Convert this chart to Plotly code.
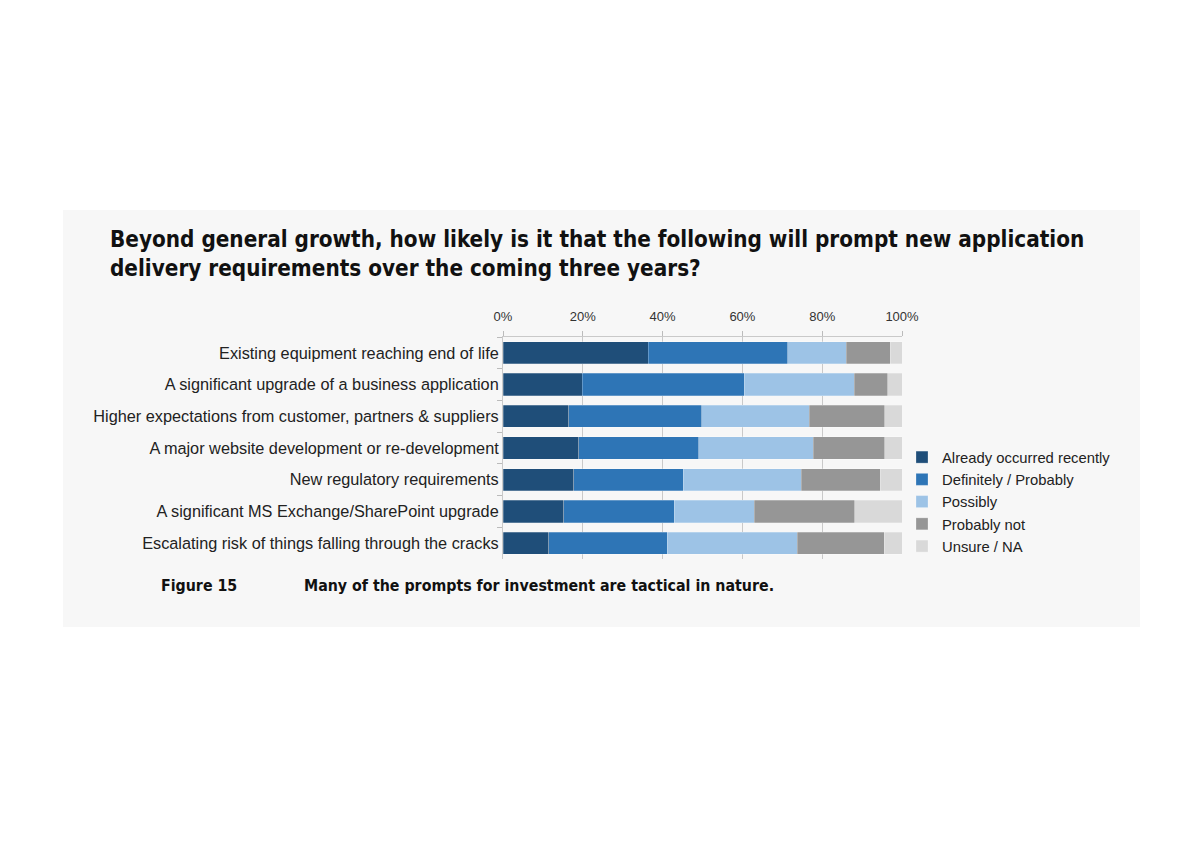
import plotly.graph_objects as go

categories = [
    "Existing equipment reaching end of life",
    "A significant upgrade of a business application",
    "Higher expectations from customer, partners & suppliers",
    "A major website development or re-development",
    "New regulatory requirements",
    "A significant MS Exchange/SharePoint upgrade",
    "Escalating risk of things falling through the cracks",
]
series_names = ["Already occurred recently", "Definitely / Probably", "Possibly", "Probably not", "Unsure / NA"]
already = [36.4, 19.9, 16.5, 19.0, 17.7, 15.2, 11.5]
definitely = [35.0, 40.6, 33.3, 30.0, 27.5, 27.7, 29.7]
possibly = [14.6, 27.5, 26.9, 28.8, 29.5, 20.1, 32.5]
probably_not = [11.0, 8.4, 19.0, 17.9, 19.8, 25.2, 21.8]
unsure = [3.0, 3.6, 4.3, 4.3, 5.5, 11.8, 4.5]
colors = ["#1f4e79", "#2e75b6", "#9dc3e6", "#969696", "#d9d9d9"]

W, H = 1191, 851
L, R, T, B = 503, 902, 337, 559

fig = go.Figure()
for name, vals, c in zip(series_names, [already, definitely, possibly, probably_not, unsure], colors):
    fig.add_trace(go.Bar(
        y=categories, x=[v / 100 for v in vals], name=name, orientation="h",
        marker=dict(color=c, line=dict(color="rgba(255,255,255,0.5)", width=0.5)),
    ))

def px(x):
    return (x - L) / (R - L)

def py(y):
    return (B - y) / (B - T)

fig.update_layout(
    width=W, height=H,
    margin=dict(l=L, r=W - R, t=T, b=H - B, pad=0),
    barmode="stack", bargap=0.3,
    paper_bgcolor="white", plot_bgcolor="#fafafa",
    font=dict(family="Liberation Sans, Arial, sans-serif", size=14, color="#222"),
    xaxis=dict(side="top", range=[0, 1], dtick=0.2, tickformat=".0%",
               showgrid=True, gridcolor="#c9c9c9", gridwidth=1,
               ticks="outside", ticklen=5, tickcolor="#bbbbbb", ticklabelstandoff=5,
               showline=True, linecolor="#c9c9c9", zeroline=False,
               tickfont=dict(size=13, color="#333")),
    yaxis=dict(autorange="reversed", tickson="boundaries", ticks="outside", ticklen=5,
               tickcolor="#bbbbbb", showline=True, linecolor="#c9c9c9",
               tickfont=dict(size=16.3, color="#222")),
    legend=dict(x=px(902), y=py(441), xanchor="left", yanchor="top",
                traceorder="normal",
                bgcolor="rgba(0,0,0,0)", font=dict(size=14.8, color="#222"),
                tracegroupgap=0, itemwidth=30),
    showlegend=True,
)

fig.add_shape(type="rect", xref="paper", yref="paper", layer="below",
              x0=px(63), x1=px(1140), y0=py(627), y1=py(210),
              fillcolor="#f7f7f7", line=dict(width=0))

title_font = dict(family="Liberation Sans Narrow, DejaVu Sans Condensed, Arial Narrow, sans-serif",
                  size=22.3, color="#111")
fig.add_annotation(xref="paper", yref="paper", x=px(108), y=py(224), xanchor="left", yanchor="top",
                   align="left", showarrow=False, font=title_font,
                   text="<b>Beyond general growth, how likely is it that the following will prompt new application<br>delivery requirements over the coming three years?</b>")
cap_font = dict(family="Liberation Sans Narrow, DejaVu Sans Condensed, Arial Narrow, sans-serif",
                size=15.8, color="#111")
fig.add_annotation(xref="paper", yref="paper", x=px(159), y=py(585), xanchor="left", yanchor="middle",
                   showarrow=False, font=cap_font, text="<b>Figure 15</b>")
fig.add_annotation(xref="paper", yref="paper", x=px(302), y=py(585), xanchor="left", yanchor="middle",
                   showarrow=False, font=cap_font,
                   text="<b>Many of the prompts for investment are tactical in nature.</b>")

fig.write_html("out.html")
